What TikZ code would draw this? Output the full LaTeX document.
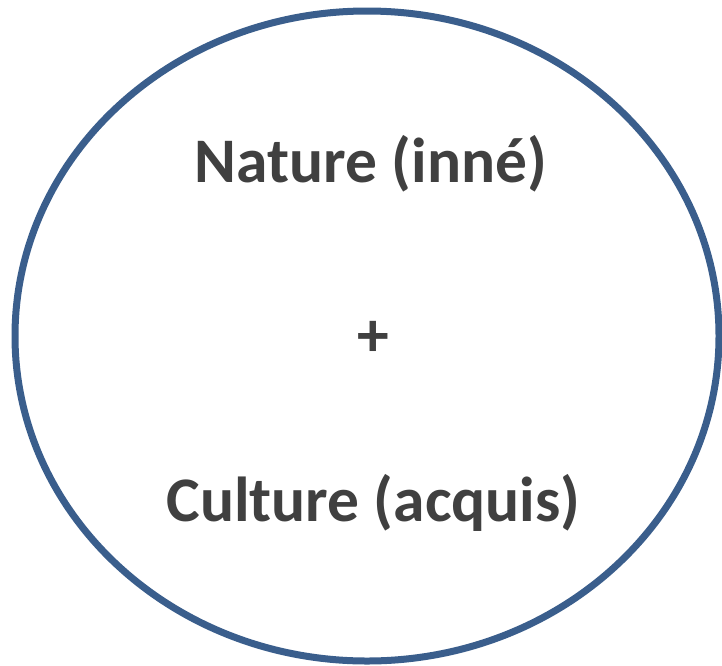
\documentclass[tikz,border=0pt]{standalone}
\usepackage{fontspec}
\setmainfont{Carlito}
\usetikzlibrary{positioning,shapes.geometric}
\definecolor{ringblue}{RGB}{58,94,140}
\definecolor{textgrey}{RGB}{64,64,64}

\begin{document}
\begin{tikzpicture}[x=1pt,y=-1pt,
  words/.style={text=textgrey, font=\fontsize{63.5}{72}\selectfont\bfseries, inner sep=0pt}]
\def\cx{367}
\def\cy{336}
\useasboundingbox (0,0) rectangle (722,665);

\node(ring) [draw=ringblue, line width=7pt, ellipse, inner sep=0pt,
  minimum width=704pt, minimum height=650pt] at (\cx, \cy) {};

\node(nature) [words, anchor=base] at (371, 182) {Nature (inné)};
\node(plus) [words, anchor=center] at (373, 339) {+};
\node(culture) [words, anchor=base] at (373.5, 521) {Culture (acquis)};
\end{tikzpicture}
\end{document}
